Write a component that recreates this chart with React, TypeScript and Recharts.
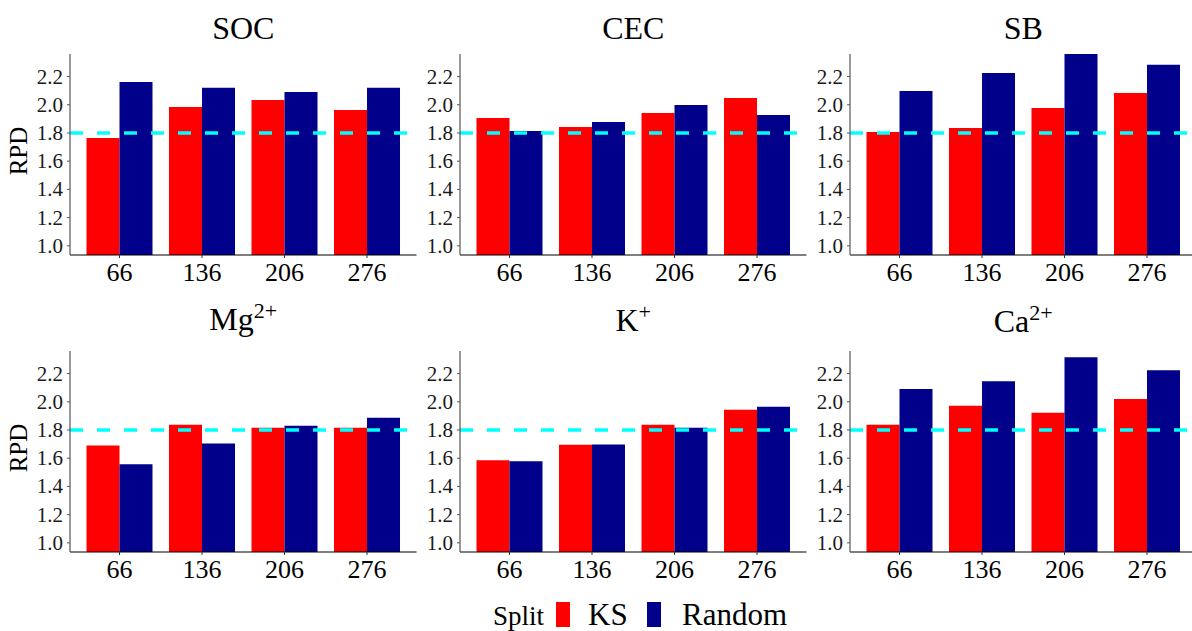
import React from 'react';
import { BarChart, Bar, XAxis, YAxis, ReferenceLine } from 'recharts';

const categories = ['66', '136', '206', '276'];

const socKS = [1.764, 1.985, 2.034, 1.963];
const socRandom = [2.162, 2.12, 2.091, 2.12];
const cecKS = [1.906, 1.843, 1.942, 2.048];
const cecRandom = [1.814, 1.878, 1.999, 1.928];
const sbKS = [1.807, 1.836, 1.977, 2.084];
const sbRandom = [2.098, 2.226, 2.37, 2.283];
const mgKS = [1.69, 1.837, 1.816, 1.816];
const mgRandom = [1.557, 1.704, 1.83, 1.887];
const kKS = [1.585, 1.695, 1.837, 1.943];
const kRandom = [1.578, 1.697, 1.816, 1.964];
const caKS = [1.837, 1.971, 1.922, 2.02];
const caRandom = [2.09, 2.146, 2.315, 2.223];

const yTicks = [1.0, 1.2, 1.4, 1.6, 1.8, 2.0, 2.2];
const threshold = 1.8;

const KS_COLOR = '#FF0000';
const RANDOM_COLOR = '#00008B';
const FONT = '"Liberation Serif", "Times New Roman", serif';

// panel geometry (plot area)
const PLOT_W = 346.5;
const PLOT_H = 201;
const AXIS_W = 60;
const AXIS_H = 40;
const TOP_PAD = 10;
const colX = [70, 460, 850];
const rowY = [54, 351];

const toRows = (ks: number[], rnd: number[]) =>
  categories.map((c, i) => ({ size: c, KS: ks[i], Random: rnd[i] }));

const serif = (size: number): React.CSSProperties => ({ fontFamily: FONT, fontSize: size });

const XTick = (props: any) => {
  const { x, y, payload } = props;
  return (
    <text x={x} y={y + 20} textAnchor="middle" fill="#000" style={serif(26)}>
      {payload.value}
    </text>
  );
};

const YTick = (props: any) => {
  const { x, y, payload } = props;
  return (
    <text x={x} y={y + 7} textAnchor="end" fill="#1a1a1a" style={serif(21)}>
      {Number(payload.value).toFixed(1)}
    </text>
  );
};

interface PanelProps {
  data: { size: string; KS: number; Random: number }[];
  x: number;
  y: number;
}

const Panel: React.FC<PanelProps> = ({ data, x, y }) => (
  <div style={{ position: 'absolute', left: x - AXIS_W, top: y - TOP_PAD }}>
    <BarChart
      width={AXIS_W + PLOT_W}
      height={TOP_PAD + PLOT_H + AXIS_H}
      data={data}
      margin={{ top: TOP_PAD, right: 0, left: 0, bottom: 0 }}
      barCategoryGap="10%"
      barGap={0}
    >
      <XAxis
        dataKey="size"
        height={AXIS_H}
        padding={{ left: 8.25, right: 8.25 }}
        axisLine={{ stroke: '#000', strokeWidth: 1.2 }}
        tickLine={{ stroke: '#333' }}
        tickSize={3}
        tickMargin={3}
        tick={<XTick />}
      />
      <YAxis
        width={AXIS_W}
        domain={[0.935, 2.36]}
        allowDataOverflow
        ticks={yTicks}
        axisLine={{ stroke: '#555', strokeWidth: 1.2 }}
        tickLine={{ stroke: '#555' }}
        tickSize={3}
        tickMargin={4}
        tick={<YTick />}
      />
      <Bar dataKey="KS" fill={KS_COLOR} isAnimationActive={false} />
      <Bar dataKey="Random" fill={RANDOM_COLOR} isAnimationActive={false} />
      <ReferenceLine
        y={threshold}
        stroke="#00FFFF"
        strokeWidth={3.5}
        strokeDasharray="13 14"
      />
    </BarChart>
  </div>
);

const Title: React.FC<{ cx: number; y: number; main: string; sup?: string }> = ({ cx, y, main, sup }) => (
  <text x={cx} y={y} textAnchor="middle" fill="#000" style={serif(32)}>
    {main}
    {sup && (
      <tspan dy={-12} style={{ fontSize: 22 }}>
        {sup}
      </tspan>
    )}
  </text>
);

export default function App() {
  const cx = colX.map((v) => v + PLOT_W / 2);
  return (
    <div
      style={{
        position: 'absolute',
        left: 0,
        top: 0,
        width: 1192,
        height: 631,
        overflow: 'hidden',
        background: '#fff',
      }}
    >
      <Panel data={toRows(socKS, socRandom)} x={colX[0]} y={rowY[0]} />
      <Panel data={toRows(cecKS, cecRandom)} x={colX[1]} y={rowY[0]} />
      <Panel data={toRows(sbKS, sbRandom)} x={colX[2]} y={rowY[0]} />
      <Panel data={toRows(mgKS, mgRandom)} x={colX[0]} y={rowY[1]} />
      <Panel data={toRows(kKS, kRandom)} x={colX[1]} y={rowY[1]} />
      <Panel data={toRows(caKS, caRandom)} x={colX[2]} y={rowY[1]} />

      <svg
        width={1192}
        height={631}
        style={{ position: 'absolute', left: 0, top: 0, pointerEvents: 'none' }}
      >
        <Title cx={cx[0]} y={39} main="SOC" />
        <Title cx={cx[1]} y={39} main="CEC" />
        <Title cx={cx[2]} y={39} main="SB" />
        <Title cx={cx[0]} y={330} main="Mg" sup="2+" />
        <Title cx={cx[1]} y={331} main="K" sup="+" />
        <Title cx={cx[2]} y={332} main="Ca" sup="2+" />

        <text transform="translate(27,151) rotate(-90)" textAnchor="middle" fill="#000" style={serif(25)}>
          RPD
        </text>
        <text transform="translate(27,448) rotate(-90)" textAnchor="middle" fill="#000" style={serif(25)}>
          RPD
        </text>

        {/* legend */}
        <text x={544} y={625} textAnchor="end" fill="#000" style={serif(27)}>
          Split
        </text>
        <rect x={556} y={602} width={14} height={25} fill={KS_COLOR} />
        <text x={588} y={625} fill="#000" style={serif(31)}>
          KS
        </text>
        <rect x={647} y={602} width={14} height={25} fill={RANDOM_COLOR} />
        <text x={682} y={625} fill="#000" style={serif(31)}>
          Random
        </text>
      </svg>
    </div>
  );
}
